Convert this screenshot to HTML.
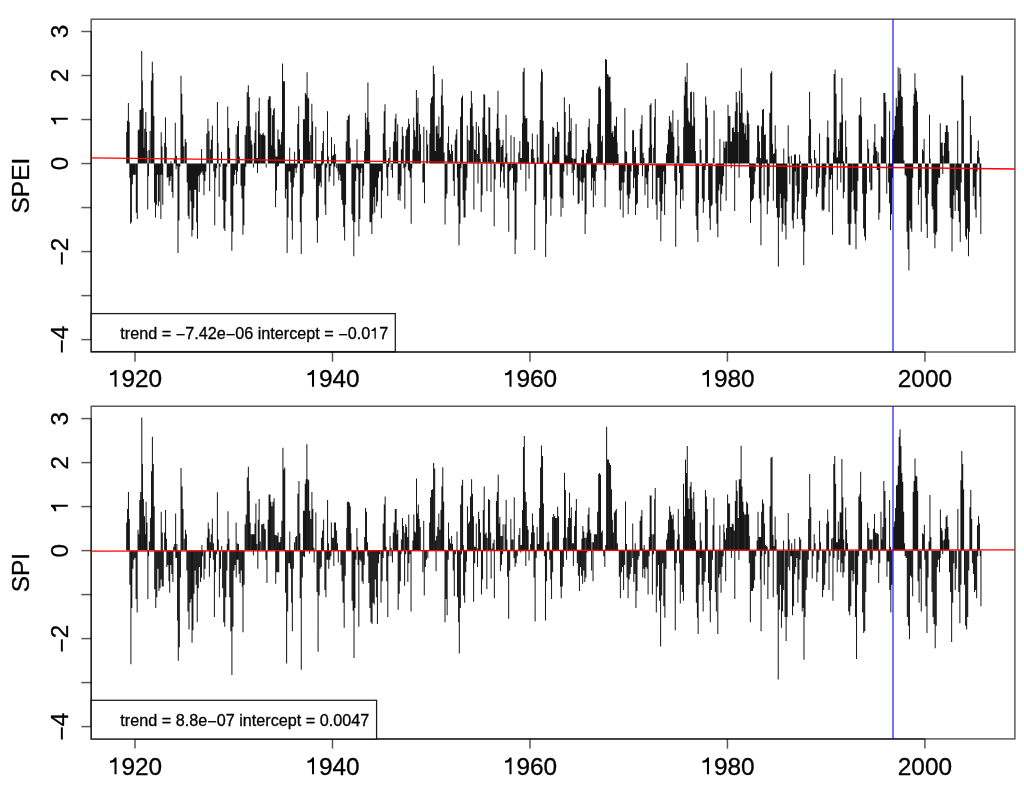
<!DOCTYPE html><html><head><meta charset="utf-8"><style>html,body{margin:0;padding:0;background:#fff;overflow:hidden}svg{display:block;will-change:transform}text{stroke:#000;stroke-width:0.3px}.h{fill-opacity:0;stroke-opacity:0}</style></head><body><svg width="1024" height="789" viewBox="0 0 1024 789">
<rect width="1024" height="789" fill="#fff"/>
<rect x="91.2" y="19.2" width="923.70" height="332.80" fill="none" stroke="#000" stroke-width="1.5" stroke-opacity="0.65"/>
<line x1="135.0" y1="352.0" x2="924.9200000000001" y2="352.0" stroke="#000" stroke-width="1.5" stroke-opacity="0.65"/>
<line x1="91.2" y1="339.63" x2="91.2" y2="31.49000000000001" stroke="#000" stroke-width="1.5" stroke-opacity="0.65"/>
<line x1="135.00" y1="352.0" x2="135.00" y2="361.7" stroke="#000" stroke-width="1.5" stroke-opacity="0.65"/>
<text x="135.00" y="387.30" text-anchor="middle" font-family='"Liberation Sans", sans-serif' font-size="24.4"><tspan class="h">1</tspan>920</text>
<path d="M116.55 369.90L116.55 386.70L114.50 386.70L114.50 374.20C113.30 374.90 111.70 375.20 110.00 375.20L110.00 373.30C112.30 373.00 113.90 371.60 114.80 369.90Z" fill="#000"/>
<line x1="332.48" y1="352.0" x2="332.48" y2="361.7" stroke="#000" stroke-width="1.5" stroke-opacity="0.65"/>
<text x="332.48" y="387.30" text-anchor="middle" font-family='"Liberation Sans", sans-serif' font-size="24.4"><tspan class="h">1</tspan>940</text>
<path d="M314.03 369.90L314.03 386.70L311.98 386.70L311.98 374.20C310.78 374.90 309.18 375.20 307.48 375.20L307.48 373.30C309.78 373.00 311.38 371.60 312.28 369.90Z" fill="#000"/>
<line x1="529.96" y1="352.0" x2="529.96" y2="361.7" stroke="#000" stroke-width="1.5" stroke-opacity="0.65"/>
<text x="529.96" y="387.30" text-anchor="middle" font-family='"Liberation Sans", sans-serif' font-size="24.4"><tspan class="h">1</tspan>960</text>
<path d="M511.51 369.90L511.51 386.70L509.46 386.70L509.46 374.20C508.26 374.90 506.66 375.20 504.96 375.20L504.96 373.30C507.26 373.00 508.86 371.60 509.76 369.90Z" fill="#000"/>
<line x1="727.44" y1="352.0" x2="727.44" y2="361.7" stroke="#000" stroke-width="1.5" stroke-opacity="0.65"/>
<text x="727.44" y="387.30" text-anchor="middle" font-family='"Liberation Sans", sans-serif' font-size="24.4"><tspan class="h">1</tspan>980</text>
<path d="M708.99 369.90L708.99 386.70L706.94 386.70L706.94 374.20C705.74 374.90 704.14 375.20 702.44 375.20L702.44 373.30C704.74 373.00 706.34 371.60 707.24 369.90Z" fill="#000"/>
<line x1="924.92" y1="352.0" x2="924.92" y2="361.7" stroke="#000" stroke-width="1.5" stroke-opacity="0.65"/>
<text x="924.92" y="387.30" text-anchor="middle" font-family='"Liberation Sans", sans-serif' font-size="24.4">2000</text>
<line x1="91.2" y1="339.63" x2="81.3" y2="339.63" stroke="#000" stroke-width="1.5" stroke-opacity="0.65"/>
<text transform="translate(67.8 339.63) rotate(-90)" text-anchor="middle" font-family='"Liberation Sans", sans-serif' font-size="24.4"><tspan dy="1.8">−</tspan><tspan dy="-1.8">4</tspan></text>
<line x1="91.2" y1="295.61" x2="81.3" y2="295.61" stroke="#000" stroke-width="1.5" stroke-opacity="0.65"/>
<line x1="91.2" y1="251.59" x2="81.3" y2="251.59" stroke="#000" stroke-width="1.5" stroke-opacity="0.65"/>
<text transform="translate(67.8 251.59) rotate(-90)" text-anchor="middle" font-family='"Liberation Sans", sans-serif' font-size="24.4"><tspan dy="1.8">−</tspan><tspan dy="-1.8">2</tspan></text>
<line x1="91.2" y1="207.57" x2="81.3" y2="207.57" stroke="#000" stroke-width="1.5" stroke-opacity="0.65"/>
<line x1="91.2" y1="163.55" x2="81.3" y2="163.55" stroke="#000" stroke-width="1.5" stroke-opacity="0.65"/>
<text transform="translate(67.8 163.55) rotate(-90)" text-anchor="middle" font-family='"Liberation Sans", sans-serif' font-size="24.4">0</text>
<line x1="91.2" y1="119.53" x2="81.3" y2="119.53" stroke="#000" stroke-width="1.5" stroke-opacity="0.65"/>
<g transform="translate(67.8 119.53) rotate(-90)"><path d="M1.90 -16.80L1.90 0.00L-0.15 0.00L-0.15 -12.50C-1.35 -11.80 -2.95 -11.50 -4.65 -11.50L-4.65 -13.40C-2.35 -13.70 -0.75 -15.10 0.15 -16.80Z" fill="#000"/></g>
<line x1="91.2" y1="75.51" x2="81.3" y2="75.51" stroke="#000" stroke-width="1.5" stroke-opacity="0.65"/>
<text transform="translate(67.8 75.51) rotate(-90)" text-anchor="middle" font-family='"Liberation Sans", sans-serif' font-size="24.4">2</text>
<line x1="91.2" y1="31.49" x2="81.3" y2="31.49" stroke="#000" stroke-width="1.5" stroke-opacity="0.65"/>
<text transform="translate(67.8 31.49) rotate(-90)" text-anchor="middle" font-family='"Liberation Sans", sans-serif' font-size="24.4">3</text>
<path d="M126.65 163.55V131.88M127.45 163.55V120.79M128.40 163.55V103.05M129.19 163.55V122.06M138.22 163.55V130.30M139.01 163.55V129.50M139.96 163.55V109.70M140.91 163.55V109.70M141.70 163.55V51.09M142.34 163.55V80.40M143.13 163.55V108.12M143.92 163.55V147.72M144.71 163.55V128.71M145.82 163.55V112.08M146.46 163.55V131.88M146.93 163.55V150.89M148.99 163.55V150.10M150.10 163.55V131.09M151.37 163.55V80.40M152.32 163.55V61.86M152.95 163.55V72.95M153.90 163.55V116.04M161.19 163.55V132.36M161.98 163.55V146.46M164.67 163.55V142.97M165.47 163.55V117.62M166.26 163.55V146.93M171.01 163.55V161.19M174.34 163.55V158.81M175.29 163.55V122.85M176.40 163.55V155.64M180.99 163.55V75.64M181.78 163.55V93.86M182.73 163.55V114.46M183.84 163.55V146.14M185.27 163.55V139.01M186.22 163.55V142.18M201.58 163.55V148.99M206.81 163.55V133.47M207.92 163.55V118.73M209.03 163.55V131.09M210.30 163.55V149.31M211.41 163.55V139.80M212.36 163.55V125.54M217.43 163.55V102.10M218.06 163.55V142.97M221.54 163.55V151.68M227.72 163.55V106.53M228.67 163.55V127.92M229.62 163.55V147.72M236.12 163.55V134.26M237.54 163.55V126.34M238.50 163.55V121.11M239.29 163.55V156.44M245.15 163.55V135.05M246.26 163.55V126.34M247.21 163.55V92.28M248.32 163.55V85.15M249.27 163.55V97.03M250.22 163.55V126.34M251.17 163.55V140.59M251.96 163.55V144.55M254.34 163.55V142.97M255.13 163.55V130.30M255.92 163.55V112.55M256.71 163.55V158.02M257.58 163.55V158.02M258.46 163.55V111.29M259.25 163.55V97.82M260.20 163.55V133.47M261.31 163.55V135.05M262.26 163.55V134.26M263.21 163.55V132.67M264.00 163.55V135.05M264.95 163.55V135.84M268.28 163.55V99.41M269.23 163.55V96.24M270.18 163.55V96.24M270.81 163.55V108.12M271.76 163.55V145.35M272.55 163.55V115.25M273.50 163.55V109.70M274.30 163.55V108.12M274.93 163.55V149.31M276.04 163.55V156.44M276.99 163.55V156.44M277.94 163.55V129.50M278.89 163.55V139.01M279.68 163.55V139.80M280.63 163.55V144.55M281.58 163.55V131.88M282.53 163.55V63.45M283.49 163.55V81.19M284.44 163.55V81.19M289.66 163.55V147.41M294.57 163.55V151.68M297.74 163.55V123.96M298.69 163.55V106.22M299.49 163.55V149.31M303.45 163.55V119.21M304.40 163.55V119.21M305.35 163.55V93.07M306.30 163.55V94.65M307.09 163.55V72.16M307.88 163.55V97.82M308.67 163.55V98.61M309.47 163.55V141.39M310.73 163.55V135.05M311.84 163.55V103.84M312.63 163.55V121.58M315.80 163.55V126.81M321.66 163.55V150.89M322.61 163.55V142.97M323.41 163.55V131.09M327.52 163.55V111.29M328.32 163.55V156.44M331.49 163.55V136.95M332.44 163.55V155.64M333.54 163.55V154.85M334.50 163.55V144.24M335.60 163.55V154.06M346.22 163.55V141.39M347.17 163.55V120.00M348.28 163.55V116.04M349.23 163.55V114.46M350.18 163.55V147.72M356.99 163.55V139.33M364.59 163.55V150.89M365.39 163.55V112.87M366.34 163.55V129.50M367.13 163.55V117.62M367.92 163.55V82.46M368.87 163.55V122.06M369.66 163.55V135.05M383.29 163.55V133.47M384.24 163.55V111.29M385.03 163.55V104.16M385.82 163.55V150.10M388.67 163.55V158.02M389.94 163.55V146.93M393.43 163.55V141.39M394.38 163.55V131.88M395.17 163.55V118.42M395.96 163.55V113.66M396.91 163.55V141.39M397.70 163.55V124.28M401.35 163.55V149.31M402.30 163.55V126.81M403.25 163.55V135.84M405.78 163.55V135.84M406.73 163.55V129.50M407.68 163.55V127.13M408.63 163.55V118.73M409.43 163.55V123.96M412.91 163.55V149.31M413.70 163.55V117.62M414.65 163.55V130.30M415.60 163.55V136.63M416.40 163.55V89.90M417.19 163.55V112.87M417.98 163.55V97.82M418.77 163.55V150.89M419.56 163.55V123.96M420.51 163.55V134.26M423.84 163.55V126.81M426.69 163.55V129.98M427.64 163.55V144.55M429.86 163.55V133.47M430.65 163.55V103.37M431.45 163.55V97.82M432.40 163.55V96.24M433.35 163.55V65.66M434.30 163.55V74.06M435.25 163.55V150.89M436.20 163.55V126.34M437.15 163.55V125.54M437.94 163.55V133.47M438.89 163.55V116.51M439.68 163.55V138.22M440.63 163.55V136.63M441.43 163.55V95.45M442.22 163.55V79.13M443.17 163.55V105.27M444.12 163.55V152.48M447.76 163.55V142.97M448.55 163.55V126.34M449.50 163.55V150.10M450.46 163.55V154.06M451.56 163.55V144.55M452.51 163.55V150.89M455.21 163.55V139.80M456.00 163.55V134.26M456.79 163.55V129.19M460.59 163.55V116.83M461.54 163.55V97.82M462.50 163.55V95.45M467.25 163.55V125.54M468.20 163.55V139.80M469.47 163.55V140.59M470.42 163.55V108.12M471.37 163.55V91.01M472.16 163.55V103.37M473.11 163.55V126.34M474.53 163.55V149.31M475.49 163.55V150.10M476.28 163.55V122.06M477.39 163.55V154.06M478.50 163.55V126.34M479.29 163.55V132.67M480.24 163.55V158.81M482.93 163.55V117.62M483.88 163.55V94.18M484.67 163.55V94.65M485.62 163.55V134.26M486.57 163.55V135.05M488.00 163.55V147.72M488.95 163.55V107.01M489.74 163.55V108.12M490.69 163.55V142.18M491.96 163.55V159.60M493.23 163.55V159.60M496.40 163.55V128.71M497.35 163.55V113.66M497.98 163.55V90.69M498.93 163.55V127.92M499.88 163.55V139.80M501.15 163.55V146.93M502.10 163.55V145.35M503.05 163.55V139.80M505.27 163.55V157.23M506.06 163.55V114.77M506.85 163.55V153.27M510.97 163.55V135.37M514.14 163.55V136.95M518.73 163.55V152.48M519.84 163.55V140.91M520.79 163.55V158.02M521.66 163.55V158.02M522.53 163.55V123.17M523.17 163.55V71.68M524.12 163.55V67.72M524.91 163.55V115.72M525.86 163.55V118.42M526.81 163.55V118.10M527.76 163.55V141.39M528.55 163.55V142.18M531.41 163.55V149.31M532.36 163.55V133.47M533.15 163.55V149.31M534.10 163.55V158.02M537.27 163.55V134.42M538.06 163.55V157.23M540.12 163.55V120.00M540.91 163.55V81.98M541.54 163.55V69.31M542.34 163.55V71.68M543.13 163.55V120.79M547.88 163.55V160.40M548.67 163.55V143.76M552.79 163.55V126.81M553.74 163.55V127.92M554.69 163.55V154.85M555.64 163.55V136.63M556.44 163.55V136.63M557.39 163.55V122.06M558.18 163.55V131.56M558.97 163.55V131.88M564.36 163.55V97.35M565.15 163.55V112.08M566.10 163.55V154.85M567.05 163.55V155.64M568.00 163.55V142.18M568.79 163.55V131.88M569.43 163.55V104.16M570.22 163.55V131.09M571.17 163.55V118.10M572.12 163.55V158.02M573.23 163.55V158.81M574.50 163.55V158.81M575.29 163.55V158.81M576.08 163.55V123.96M581.62 163.55V157.23M582.57 163.55V150.10M583.52 163.55V149.78M586.38 163.55V153.27M587.33 163.55V149.31M588.28 163.55V127.13M589.23 163.55V118.73M589.86 163.55V141.39M590.65 163.55V143.76M591.52 163.55V158.02M592.40 163.55V158.02M596.67 163.55V156.44M597.78 163.55V123.96M598.73 163.55V87.52M599.68 163.55V86.26M600.48 163.55V89.11M601.43 163.55V141.39M602.38 163.55V135.84M605.54 163.55V59.01M606.50 163.55V59.80M607.29 163.55V74.06M608.08 163.55V74.85M609.03 163.55V77.23M609.98 163.55V76.44M610.93 163.55V101.78M611.88 163.55V132.67M612.83 163.55V131.09M613.62 163.55V136.63M614.57 163.55V125.54M615.52 163.55V126.34M616.48 163.55V116.83M617.11 163.55V142.18M618.06 163.55V154.06M624.87 163.55V108.12M625.66 163.55V150.89M626.61 163.55V151.68M632.63 163.55V130.30M633.58 163.55V130.30M634.53 163.55V150.89M635.49 163.55V146.93M640.24 163.55V128.71M641.19 163.55V123.96M641.98 163.55V115.25M643.09 163.55V152.79M644.04 163.55V158.02M649.11 163.55V147.72M650.06 163.55V104.95M651.01 163.55V103.37M651.64 163.55V144.55M653.70 163.55V147.72M654.50 163.55V117.31M655.29 163.55V98.93M666.53 163.55V153.27M667.49 163.55V144.55M668.44 163.55V129.50M669.39 163.55V116.04M670.18 163.55V120.79M671.13 163.55V122.38M672.08 163.55V131.88M672.87 163.55V110.18M673.82 163.55V136.63M677.15 163.55V155.64M677.94 163.55V119.68M678.89 163.55V146.14M683.64 163.55V127.13M684.28 163.55V95.45M685.23 163.55V76.44M686.18 163.55V81.98M687.13 163.55V62.97M687.92 163.55V108.12M688.71 163.55V120.79M689.66 163.55V122.38M690.61 163.55V92.28M691.41 163.55V91.49M692.04 163.55V126.34M692.99 163.55V125.54M693.78 163.55V91.96M694.57 163.55V117.62M695.37 163.55V150.89M700.12 163.55V139.01M701.07 163.55V150.10M705.66 163.55V96.55M706.46 163.55V104.63M707.41 163.55V117.62M713.27 163.55V158.02M714.06 163.55V110.50M719.92 163.55V139.01M723.88 163.55V141.39M724.83 163.55V147.72M725.78 163.55V141.39M726.73 163.55V141.39M728.00 163.55V104.63M728.95 163.55V116.04M729.90 163.55V116.04M730.85 163.55V141.39M731.64 163.55V141.39M732.44 163.55V127.92M733.39 163.55V127.13M734.34 163.55V131.88M735.29 163.55V111.29M736.24 163.55V91.96M737.19 163.55V102.57M738.14 163.55V131.88M739.41 163.55V90.69M740.36 163.55V112.87M741.31 163.55V68.20M742.10 163.55V93.07M742.89 163.55V122.38M743.84 163.55V123.17M744.79 163.55V133.47M745.74 163.55V124.75M746.38 163.55V139.80M747.33 163.55V110.50M748.28 163.55V112.87M748.91 163.55V123.96M756.83 163.55V157.23M757.62 163.55V125.54M758.57 163.55V125.54M759.52 163.55V141.39M760.63 163.55V158.02M761.58 163.55V126.34M762.53 163.55V109.70M763.49 163.55V108.91M764.44 163.55V135.05M765.39 163.55V134.26M766.34 163.55V159.60M767.29 163.55V159.60M769.82 163.55V112.87M770.77 163.55V73.27M771.72 163.55V71.37M772.51 163.55V143.76M773.47 163.55V154.06M774.26 163.55V153.27M775.21 163.55V125.23M776.00 163.55V148.99M783.76 163.55V148.51M788.20 163.55V125.23M789.15 163.55V156.44M791.37 163.55V155.64M794.53 163.55V154.38M795.49 163.55V154.38M799.60 163.55V154.38M800.55 163.55V161.19M808.79 163.55V135.84M809.58 163.55V91.80M810.53 163.55V119.21M811.33 163.55V158.81M814.50 163.55V150.10M815.76 163.55V158.02M819.56 163.55V133.47M827.17 163.55V136.95M827.80 163.55V120.48M828.75 163.55V137.43M833.50 163.55V152.48M834.14 163.55V74.06M835.09 163.55V69.62M836.04 163.55V93.86M836.99 163.55V157.23M837.78 163.55V157.23M838.57 163.55V139.01M839.21 163.55V150.89M840.00 163.55V122.38M840.95 163.55V122.38M841.90 163.55V78.02M842.53 163.55V114.46M843.49 163.55V161.19M845.70 163.55V120.48M846.65 163.55V146.93M859.17 163.55V115.25M860.12 163.55V114.46M860.75 163.55V97.35M861.54 163.55V116.83M867.72 163.55V139.49M868.67 163.55V148.51M873.43 163.55V155.33M874.06 163.55V142.18M874.85 163.55V123.96M875.80 163.55V146.93M876.75 163.55V150.89M878.18 163.55V152.16M881.35 163.55V136.32M882.30 163.55V136.95M883.25 163.55V138.22M883.88 163.55V93.07M884.83 163.55V93.07M885.78 163.55V102.10M889.58 163.55V111.29M892.75 163.55V139.01M893.70 163.55V135.05M894.34 163.55V130.30M895.29 163.55V116.04M896.24 163.55V97.82M897.19 163.55V106.53M898.14 163.55V67.25M899.09 163.55V90.69M899.88 163.55V68.20M900.67 163.55V74.06M901.47 163.55V96.24M902.26 163.55V97.03M903.05 163.55V126.34M904.00 163.55V160.40M913.35 163.55V105.74M914.14 163.55V93.86M914.93 163.55V73.27M915.72 163.55V88.32M916.51 163.55V90.69M917.47 163.55V101.78M922.53 163.55V149.31M923.33 163.55V150.89M924.12 163.55V138.69M929.50 163.55V114.77M930.14 163.55V158.81M940.28 163.55V123.17M941.23 163.55V142.97M942.18 163.55V142.18M943.13 163.55V155.64M944.40 163.55V142.97M945.35 163.55V131.88M946.30 163.55V125.23M947.25 163.55V125.54M948.20 163.55V131.88M948.83 163.55V150.89M957.70 163.55V120.79M961.82 163.55V75.17M962.61 163.55V75.64M963.41 163.55V99.88M970.38 163.55V116.04M971.33 163.55V135.05M977.50 163.55V150.89M978.30 163.55V140.59M979.25 163.55V157.23M129.82 163.55V177.84M130.61 163.55V223.78M131.41 163.55V222.20M132.36 163.55V184.18M133.31 163.55V174.67M134.26 163.55V174.67M135.21 163.55V174.67M136.32 163.55V212.69M137.27 163.55V219.03M147.72 163.55V209.52M148.51 163.55V176.26M154.53 163.55V202.40M155.49 163.55V217.45M156.44 163.55V204.77M157.39 163.55V174.67M158.34 163.55V206.36M159.29 163.55V201.60M160.24 163.55V174.67M160.87 163.55V219.03M161.82 163.55V174.67M162.77 163.55V204.77M167.21 163.55V177.84M168.16 163.55V177.05M169.11 163.55V185.76M170.06 163.55V181.01M171.01 163.55V176.26M171.96 163.55V192.10M172.91 163.55V197.64M176.08 163.55V169.13M177.03 163.55V165.96M177.98 163.55V253.09M178.93 163.55V220.61M179.88 163.55V166.75M187.17 163.55V182.59M188.12 163.55V215.86M189.07 163.55V219.03M190.02 163.55V190.51M190.97 163.55V201.60M191.92 163.55V236.46M192.87 163.55V230.12M193.82 163.55V207.94M194.77 163.55V189.72M195.72 163.55V189.72M196.67 163.55V222.20M197.47 163.55V238.83M198.42 163.55V176.26M199.21 163.55V192.10M200.16 163.55V174.67M201.11 163.55V173.09M202.06 163.55V171.50M203.01 163.55V174.67M203.96 163.55V195.27M204.91 163.55V181.01M205.86 163.55V171.50M209.66 163.55V191.31M213.78 163.55V171.50M214.73 163.55V225.37M215.68 163.55V177.84M216.63 163.55V168.34M219.17 163.55V196.85M220.12 163.55V166.75M222.97 163.55V200.02M223.92 163.55V228.53M224.87 163.55V230.91M225.82 163.55V201.60M226.77 163.55V166.75M230.89 163.55V215.86M231.84 163.55V250.71M232.79 163.55V231.70M233.74 163.55V185.76M234.69 163.55V174.67M235.64 163.55V169.92M236.59 163.55V184.18M237.54 163.55V171.50M241.03 163.55V185.76M241.98 163.55V198.44M242.93 163.55V234.87M243.88 163.55V225.37M244.83 163.55V185.76M245.78 163.55V166.75M253.39 163.55V167.54M257.50 163.55V173.09M266.22 163.55V167.54M275.56 163.55V207.15M276.51 163.55V190.51M277.47 163.55V166.75M278.42 163.55V165.96M285.39 163.55V198.44M286.34 163.55V188.93M287.13 163.55V253.09M288.08 163.55V217.45M289.03 163.55V171.50M289.90 163.55V171.50M290.77 163.55V182.59M291.72 163.55V220.61M292.36 163.55V239.62M293.31 163.55V187.35M294.26 163.55V177.84M295.21 163.55V168.34M296.16 163.55V173.09M297.11 163.55V167.54M300.28 163.55V222.20M301.23 163.55V253.88M302.18 163.55V196.85M303.13 163.55V193.68M304.40 163.55V168.34M314.22 163.55V178.63M315.33 163.55V168.34M316.44 163.55V220.61M317.39 163.55V242.79M318.34 163.55V217.45M319.29 163.55V185.76M320.24 163.55V182.59M321.19 163.55V187.35M322.14 163.55V165.17M324.99 163.55V204.77M325.78 163.55V215.07M326.73 163.55V167.54M329.11 163.55V181.80M330.06 163.55V176.26M331.01 163.55V165.96M333.86 163.55V185.76M334.81 163.55V166.75M336.71 163.55V168.34M337.98 163.55V171.50M338.77 163.55V180.22M339.88 163.55V174.67M340.83 163.55V181.01M341.78 163.55V200.02M342.73 163.55V204.77M343.68 163.55V226.95M344.63 163.55V240.42M345.58 163.55V204.77M351.92 163.55V214.28M352.87 163.55V220.61M353.82 163.55V256.26M354.77 163.55V222.20M355.72 163.55V181.01M356.67 163.55V168.34M357.47 163.55V168.34M358.26 163.55V169.92M358.89 163.55V236.46M359.84 163.55V219.03M360.79 163.55V173.09M361.74 163.55V168.34M362.69 163.55V198.44M363.64 163.55V185.76M369.98 163.55V222.20M370.93 163.55V222.20M371.88 163.55V234.08M372.83 163.55V214.28M373.78 163.55V196.85M374.73 163.55V212.69M375.68 163.55V187.35M376.63 163.55V206.36M377.58 163.55V201.60M378.53 163.55V177.84M379.49 163.55V171.50M380.44 163.55V171.50M381.39 163.55V218.24M382.34 163.55V190.51M386.77 163.55V177.84M387.72 163.55V196.06M388.67 163.55V166.75M391.21 163.55V169.92M392.48 163.55V177.84M398.18 163.55V200.02M399.13 163.55V193.68M400.08 163.55V200.81M401.03 163.55V185.76M403.88 163.55V168.34M404.83 163.55V208.73M405.78 163.55V166.75M408.32 163.55V169.92M409.27 163.55V171.50M410.22 163.55V177.84M411.17 163.55V223.78M411.80 163.55V168.34M422.89 163.55V182.59M423.68 163.55V182.59M424.48 163.55V203.19M445.07 163.55V224.57M446.02 163.55V198.44M446.97 163.55V193.68M453.31 163.55V181.01M454.26 163.55V196.06M457.43 163.55V177.84M458.06 163.55V206.36M459.01 163.55V245.17M459.96 163.55V223.78M460.91 163.55V168.34M463.13 163.55V200.02M464.08 163.55V217.45M465.03 163.55V217.45M465.98 163.55V190.51M466.93 163.55V177.84M473.90 163.55V209.52M478.02 163.55V183.39M481.19 163.55V211.90M482.14 163.55V195.27M486.89 163.55V191.31M491.01 163.55V192.10M494.18 163.55V226.16M495.13 163.55V179.43M500.51 163.55V187.35M501.47 163.55V171.50M502.73 163.55V166.75M503.68 163.55V182.59M504.32 163.55V188.14M507.80 163.55V198.44M508.75 163.55V231.70M509.70 163.55V171.50M510.65 163.55V169.92M511.92 163.55V168.34M512.71 163.55V168.34M513.50 163.55V190.51M514.46 163.55V182.59M515.09 163.55V253.88M516.04 163.55V239.62M516.99 163.55V182.59M520.79 163.55V169.92M525.86 163.55V191.31M529.03 163.55V178.63M534.73 163.55V249.92M535.68 163.55V204.77M543.92 163.55V200.02M544.87 163.55V196.85M545.66 163.55V257.05M546.46 163.55V223.78M549.94 163.55V174.67M550.89 163.55V215.86M551.84 163.55V198.44M560.08 163.55V196.85M561.03 163.55V216.65M561.98 163.55V198.44M562.93 163.55V207.94M563.88 163.55V171.50M567.05 163.55V175.47M572.12 163.55V173.09M573.39 163.55V195.27M574.34 163.55V169.92M577.19 163.55V177.84M578.14 163.55V203.98M579.09 163.55V203.19M580.04 163.55V181.01M581.31 163.55V182.59M582.26 163.55V200.81M583.21 163.55V182.59M584.16 163.55V177.84M585.11 163.55V234.08M586.06 163.55V214.28M591.45 163.55V190.51M592.40 163.55V177.84M593.35 163.55V207.15M594.30 163.55V181.01M595.25 163.55V195.27M596.20 163.55V171.50M604.12 163.55V169.92M605.07 163.55V207.15M605.70 163.55V180.22M613.62 163.55V165.96M619.33 163.55V190.51M620.28 163.55V209.52M621.23 163.55V190.51M622.18 163.55V182.59M623.13 163.55V217.45M624.08 163.55V182.59M625.03 163.55V171.50M627.25 163.55V195.27M628.20 163.55V214.28M629.15 163.55V198.44M630.10 163.55V193.68M631.05 163.55V171.50M633.58 163.55V188.14M634.53 163.55V177.84M635.49 163.55V215.07M636.44 163.55V204.77M637.39 163.55V203.19M638.34 163.55V174.67M642.46 163.55V176.26M644.99 163.55V195.27M645.94 163.55V177.84M646.89 163.55V184.18M647.84 163.55V207.94M648.48 163.55V171.50M652.59 163.55V199.23M656.08 163.55V204.77M657.03 163.55V219.82M657.98 163.55V177.84M658.93 163.55V177.84M659.88 163.55V201.60M660.83 163.55V241.21M661.78 163.55V211.11M662.73 163.55V193.68M663.68 163.55V171.50M664.63 163.55V215.07M665.58 163.55V184.18M674.77 163.55V181.01M675.72 163.55V246.75M676.67 163.55V195.27M679.52 163.55V173.09M680.48 163.55V208.73M681.43 163.55V189.72M682.38 163.55V188.93M683.01 163.55V200.81M696.00 163.55V215.86M696.95 163.55V230.12M697.90 163.55V242.00M698.53 163.55V203.19M702.34 163.55V198.44M703.29 163.55V212.69M704.24 163.55V201.60M705.19 163.55V169.92M708.67 163.55V200.02M709.62 163.55V218.24M710.26 163.55V230.12M711.21 163.55V206.36M712.16 163.55V204.77M715.96 163.55V203.19M716.91 163.55V223.78M717.86 163.55V237.25M718.81 163.55V190.51M719.76 163.55V184.18M720.71 163.55V211.11M721.66 163.55V193.68M722.61 163.55V185.76M723.56 163.55V176.26M726.10 163.55V200.81M731.17 163.55V168.34M734.65 163.55V211.11M739.09 163.55V177.84M749.54 163.55V177.84M750.50 163.55V222.99M751.45 163.55V201.60M752.40 163.55V200.02M753.35 163.55V198.44M754.30 163.55V184.18M755.25 163.55V171.50M759.37 163.55V198.44M760.32 163.55V203.19M760.95 163.55V245.17M761.58 163.55V168.34M764.12 163.55V195.27M767.29 163.55V214.28M768.24 163.55V201.60M769.19 163.55V186.55M773.31 163.55V200.81M776.48 163.55V207.94M777.43 163.55V217.45M778.38 163.55V266.55M779.33 163.55V217.45M780.28 163.55V193.68M781.23 163.55V207.94M782.18 163.55V231.70M783.13 163.55V223.78M784.08 163.55V198.44M785.03 163.55V225.37M785.98 163.55V239.62M786.93 163.55V201.60M789.78 163.55V184.18M792.32 163.55V220.61M793.27 163.55V228.53M794.22 163.55V212.69M795.17 163.55V171.50M796.12 163.55V185.76M797.39 163.55V219.03M798.34 163.55V201.60M799.29 163.55V193.68M801.82 163.55V219.03M802.77 163.55V225.37M803.72 163.55V264.97M804.67 163.55V231.70M805.62 163.55V209.52M806.57 163.55V196.85M807.52 163.55V179.43M811.64 163.55V188.93M816.40 163.55V196.85M817.35 163.55V193.68M818.61 163.55V187.35M819.56 163.55V177.84M822.10 163.55V209.52M823.05 163.55V211.11M824.00 163.55V209.52M824.95 163.55V187.35M825.90 163.55V174.67M829.07 163.55V211.90M829.86 163.55V179.43M830.65 163.55V179.43M831.60 163.55V174.67M832.55 163.55V234.87M837.31 163.55V189.72M840.79 163.55V182.59M843.33 163.55V198.44M844.28 163.55V192.10M848.08 163.55V223.78M849.03 163.55V244.38M849.98 163.55V245.17M850.93 163.55V223.78M851.88 163.55V192.10M853.15 163.55V190.51M854.10 163.55V209.52M855.05 163.55V223.78M856.00 163.55V249.13M856.95 163.55V211.11M857.90 163.55V181.01M862.65 163.55V193.68M863.60 163.55V228.53M864.55 163.55V236.46M865.50 163.55V240.42M866.46 163.55V193.68M869.62 163.55V182.59M870.89 163.55V190.51M871.84 163.55V189.72M877.23 163.55V169.92M878.02 163.55V169.92M878.81 163.55V219.82M879.76 163.55V212.69M886.73 163.55V193.68M888.63 163.55V182.59M889.58 163.55V203.19M890.53 163.55V230.12M891.49 163.55V214.28M892.44 163.55V177.84M905.11 163.55V174.67M906.06 163.55V176.26M907.01 163.55V231.70M907.96 163.55V249.13M908.91 163.55V270.51M909.86 163.55V220.61M910.81 163.55V228.53M911.76 163.55V231.70M912.71 163.55V177.84M918.42 163.55V204.77M919.37 163.55V189.72M920.32 163.55V187.35M921.27 163.55V231.70M925.39 163.55V197.64M926.34 163.55V223.78M927.29 163.55V238.04M928.24 163.55V193.68M932.04 163.55V206.36M932.99 163.55V209.52M933.94 163.55V233.29M934.89 163.55V248.34M935.84 163.55V234.87M936.79 163.55V231.70M937.74 163.55V184.18M938.69 163.55V177.84M939.64 163.55V177.84M942.81 163.55V173.88M950.10 163.55V207.94M951.05 163.55V217.45M952.00 163.55V251.50M952.95 163.55V219.03M953.90 163.55V195.27M955.17 163.55V211.11M956.44 163.55V189.72M957.39 163.55V190.51M958.34 163.55V211.11M959.29 163.55V222.20M960.24 163.55V242.00M961.19 163.55V182.59M964.67 163.55V201.60M965.62 163.55V236.46M966.57 163.55V239.62M967.52 163.55V228.53M968.48 163.55V256.26M969.43 163.55V231.70M973.23 163.55V196.06M974.18 163.55V187.35M975.13 163.55V209.52M976.08 163.55V217.45M977.03 163.55V171.50M979.88 163.55V196.85M980.83 163.55V234.08" stroke="#161616" stroke-width="1.02" fill="none"/>
<line x1="91.2" y1="157.85" x2="1014.9" y2="169.04" stroke="#ff0000" stroke-width="1.35"/>
<line x1="893" y1="19.2" x2="893" y2="352.0" stroke="#0000ff" stroke-width="1.1"/>
<text transform="translate(29 185.60) rotate(-90)" text-anchor="middle" font-family='"Liberation Sans", sans-serif' font-size="24.4">SPEI</text>
<rect x="91.25" y="313.6" width="304.05" height="38.00" fill="#fff" stroke="#000" stroke-width="1.3" stroke-opacity="0.88"/>
<text x="120.3" y="338.9" font-family='"Liberation Sans", sans-serif' font-size="16.2">trend = <tspan dy="1.2">−</tspan><tspan dy="-1.2">7</tspan>.42e<tspan dy="1.2">−</tspan><tspan dy="-1.2">0</tspan>6 intercept = <tspan dy="1.2">−</tspan><tspan dy="-1.2">0</tspan>.0<tspan class="h">1</tspan>7</text>
<g transform="translate(370.05 338.9) scale(0.6639)"><path d="M8.68 -17.10L8.68 -0.30L6.63 -0.30L6.63 -12.80C5.43 -12.10 3.83 -11.80 2.13 -11.80L2.13 -13.70C4.43 -14.00 6.03 -15.40 6.93 -17.10Z" fill="#000"/></g>
<rect x="91.2" y="406.25" width="923.70" height="332.65" fill="none" stroke="#000" stroke-width="1.5" stroke-opacity="0.65"/>
<line x1="135.0" y1="738.9" x2="924.9200000000001" y2="738.9" stroke="#000" stroke-width="1.5" stroke-opacity="0.65"/>
<line x1="91.2" y1="726.6" x2="91.2" y2="418.6" stroke="#000" stroke-width="1.5" stroke-opacity="0.65"/>
<line x1="135.00" y1="738.9" x2="135.00" y2="748.6" stroke="#000" stroke-width="1.5" stroke-opacity="0.65"/>
<text x="135.00" y="774.80" text-anchor="middle" font-family='"Liberation Sans", sans-serif' font-size="24.4"><tspan class="h">1</tspan>920</text>
<path d="M116.55 757.40L116.55 774.20L114.50 774.20L114.50 761.70C113.30 762.40 111.70 762.70 110.00 762.70L110.00 760.80C112.30 760.50 113.90 759.10 114.80 757.40Z" fill="#000"/>
<line x1="332.48" y1="738.9" x2="332.48" y2="748.6" stroke="#000" stroke-width="1.5" stroke-opacity="0.65"/>
<text x="332.48" y="774.80" text-anchor="middle" font-family='"Liberation Sans", sans-serif' font-size="24.4"><tspan class="h">1</tspan>940</text>
<path d="M314.03 757.40L314.03 774.20L311.98 774.20L311.98 761.70C310.78 762.40 309.18 762.70 307.48 762.70L307.48 760.80C309.78 760.50 311.38 759.10 312.28 757.40Z" fill="#000"/>
<line x1="529.96" y1="738.9" x2="529.96" y2="748.6" stroke="#000" stroke-width="1.5" stroke-opacity="0.65"/>
<text x="529.96" y="774.80" text-anchor="middle" font-family='"Liberation Sans", sans-serif' font-size="24.4"><tspan class="h">1</tspan>960</text>
<path d="M511.51 757.40L511.51 774.20L509.46 774.20L509.46 761.70C508.26 762.40 506.66 762.70 504.96 762.70L504.96 760.80C507.26 760.50 508.86 759.10 509.76 757.40Z" fill="#000"/>
<line x1="727.44" y1="738.9" x2="727.44" y2="748.6" stroke="#000" stroke-width="1.5" stroke-opacity="0.65"/>
<text x="727.44" y="774.80" text-anchor="middle" font-family='"Liberation Sans", sans-serif' font-size="24.4"><tspan class="h">1</tspan>980</text>
<path d="M708.99 757.40L708.99 774.20L706.94 774.20L706.94 761.70C705.74 762.40 704.14 762.70 702.44 762.70L702.44 760.80C704.74 760.50 706.34 759.10 707.24 757.40Z" fill="#000"/>
<line x1="924.92" y1="738.9" x2="924.92" y2="748.6" stroke="#000" stroke-width="1.5" stroke-opacity="0.65"/>
<text x="924.92" y="774.80" text-anchor="middle" font-family='"Liberation Sans", sans-serif' font-size="24.4">2000</text>
<line x1="91.2" y1="726.60" x2="81.3" y2="726.60" stroke="#000" stroke-width="1.5" stroke-opacity="0.65"/>
<text transform="translate(67.8 726.60) rotate(-90)" text-anchor="middle" font-family='"Liberation Sans", sans-serif' font-size="24.4"><tspan dy="1.8">−</tspan><tspan dy="-1.8">4</tspan></text>
<line x1="91.2" y1="682.60" x2="81.3" y2="682.60" stroke="#000" stroke-width="1.5" stroke-opacity="0.65"/>
<line x1="91.2" y1="638.60" x2="81.3" y2="638.60" stroke="#000" stroke-width="1.5" stroke-opacity="0.65"/>
<text transform="translate(67.8 638.60) rotate(-90)" text-anchor="middle" font-family='"Liberation Sans", sans-serif' font-size="24.4"><tspan dy="1.8">−</tspan><tspan dy="-1.8">2</tspan></text>
<line x1="91.2" y1="594.60" x2="81.3" y2="594.60" stroke="#000" stroke-width="1.5" stroke-opacity="0.65"/>
<line x1="91.2" y1="550.60" x2="81.3" y2="550.60" stroke="#000" stroke-width="1.5" stroke-opacity="0.65"/>
<text transform="translate(67.8 550.60) rotate(-90)" text-anchor="middle" font-family='"Liberation Sans", sans-serif' font-size="24.4">0</text>
<line x1="91.2" y1="506.60" x2="81.3" y2="506.60" stroke="#000" stroke-width="1.5" stroke-opacity="0.65"/>
<g transform="translate(67.8 506.60) rotate(-90)"><path d="M1.90 -16.80L1.90 0.00L-0.15 0.00L-0.15 -12.50C-1.35 -11.80 -2.95 -11.50 -4.65 -11.50L-4.65 -13.40C-2.35 -13.70 -0.75 -15.10 0.15 -16.80Z" fill="#000"/></g>
<line x1="91.2" y1="462.60" x2="81.3" y2="462.60" stroke="#000" stroke-width="1.5" stroke-opacity="0.65"/>
<text transform="translate(67.8 462.60) rotate(-90)" text-anchor="middle" font-family='"Liberation Sans", sans-serif' font-size="24.4">2</text>
<line x1="91.2" y1="418.60" x2="81.3" y2="418.60" stroke="#000" stroke-width="1.5" stroke-opacity="0.65"/>
<text transform="translate(67.8 418.60) rotate(-90)" text-anchor="middle" font-family='"Liberation Sans", sans-serif' font-size="24.4">3</text>
<path d="M126.66 550.60V522.52M127.56 550.60V509.02M128.46 550.60V491.91M129.36 550.60V518.92M138.00 550.60V529.72M139.08 550.60V534.22M139.80 550.60V500.01M140.70 550.60V491.91M141.78 550.60V417.56M142.50 550.60V464.01M143.40 550.60V499.11M144.48 550.60V516.22M145.20 550.60V534.22M146.10 550.60V501.81M147.00 550.60V522.52M149.34 550.60V541.42M150.42 550.60V518.02M151.50 550.60V471.21M152.41 550.60V436.64M153.31 550.60V464.01M154.21 550.60V506.32M161.23 550.60V511.72M162.31 550.60V532.42M164.65 550.60V532.42M165.55 550.60V509.92M166.45 550.60V538.72M173.65 550.60V546.82M174.73 550.60V544.12M175.63 550.60V513.52M176.89 550.60V544.12M181.03 550.60V467.97M182.11 550.60V486.51M183.01 550.60V509.02M184.27 550.60V538.72M185.53 550.60V529.72M186.43 550.60V534.22M201.91 550.60V545.02M207.31 550.60V537.82M208.21 550.60V522.52M209.11 550.60V528.82M210.19 550.60V542.32M211.27 550.60V534.22M212.35 550.60V518.56M213.43 550.60V543.22M217.40 550.60V492.27M218.30 550.60V539.62M221.72 550.60V545.92M227.30 550.60V544.12M228.02 550.60V511.18M228.92 550.60V538.72M236.12 550.60V522.52M237.38 550.60V543.22M238.46 550.60V544.12M245.12 550.60V524.32M246.20 550.60V514.42M247.28 550.60V477.51M248.36 550.60V466.71M249.26 550.60V491.01M250.16 550.60V522.52M251.24 550.60V534.22M252.32 550.60V534.22M253.22 550.60V534.22M254.12 550.60V534.22M255.02 550.60V523.42M255.92 550.60V503.61M257.00 550.60V544.12M258.26 550.60V519.82M259.16 550.60V499.11M260.24 550.60V541.42M261.68 550.60V524.32M262.76 550.60V524.32M263.84 550.60V523.42M264.74 550.60V528.82M265.28 550.60V529.72M268.16 550.60V519.82M269.06 550.60V494.61M269.96 550.60V494.61M270.86 550.60V501.81M271.94 550.60V506.32M273.02 550.60V501.81M274.10 550.60V498.21M275.00 550.60V535.12M276.08 550.60V535.12M277.16 550.60V536.02M278.06 550.60V532.42M279.14 550.60V542.32M279.95 550.60V542.32M280.77 550.60V536.92M281.85 550.60V520.72M282.93 550.60V447.81M283.83 550.60V469.41M284.73 550.60V467.61M289.77 550.60V531.52M294.45 550.60V542.32M295.71 550.60V536.92M296.61 550.60V536.02M297.87 550.60V493.71M298.95 550.60V481.11M299.85 550.60V533.32M303.45 550.60V510.82M304.35 550.60V510.82M305.25 550.60V483.81M306.15 550.60V479.31M306.87 550.60V444.21M307.95 550.60V479.31M308.67 550.60V480.21M309.75 550.60V510.82M310.83 550.60V518.92M311.91 550.60V491.91M312.81 550.60V509.02M313.89 550.60V547.72M315.87 550.60V512.62M321.45 550.60V537.82M322.53 550.60V530.62M323.61 550.60V519.46M327.57 550.60V500.01M328.47 550.60V543.22M331.35 550.60V522.52M332.43 550.60V537.82M333.51 550.60V537.82M334.41 550.60V522.52M335.49 550.60V522.52M336.57 550.60V530.62M337.47 550.60V543.22M346.66 550.60V527.92M347.38 550.60V501.81M348.46 550.60V501.81M349.36 550.60V502.71M350.26 550.60V506.32M350.98 550.60V533.32M356.92 550.60V527.92M357.82 550.60V546.82M364.66 550.60V536.92M365.56 550.60V508.12M366.46 550.60V511.72M367.54 550.60V542.32M383.20 550.60V523.42M384.28 550.60V504.51M385.18 550.60V496.41M386.08 550.60V546.82M390.04 550.60V536.02M391.12 550.60V547.72M393.28 550.60V532.42M394.18 550.60V522.52M395.26 550.60V509.02M396.16 550.60V509.02M397.06 550.60V534.22M397.78 550.60V529.72M401.38 550.60V539.62M402.46 550.60V518.02M403.36 550.60V526.12M404.80 550.60V532.42M405.70 550.60V524.32M406.60 550.60V527.02M407.68 550.60V536.92M408.77 550.60V514.42M412.91 550.60V540.52M413.81 550.60V514.42M414.71 550.60V531.52M415.61 550.60V532.42M416.51 550.60V478.41M417.41 550.60V513.52M418.31 550.60V504.51M419.21 550.60V518.92M420.29 550.60V527.02M423.71 550.60V520.72M429.65 550.60V522.52M430.55 550.60V497.31M431.45 550.60V490.11M432.53 550.60V489.21M433.61 550.60V463.11M434.69 550.60V468.51M435.59 550.60V540.52M436.67 550.60V536.02M437.75 550.60V527.02M438.83 550.60V513.52M439.91 550.60V529.72M440.99 550.60V509.92M441.89 550.60V486.51M442.79 550.60V467.25M443.69 550.60V501.81M448.55 550.60V522.52M449.45 550.60V538.72M450.53 550.60V543.22M451.61 550.60V536.02M452.51 550.60V544.12M457.01 550.60V531.52M460.61 550.60V504.51M461.69 550.60V485.61M462.59 550.60V479.85M463.31 550.60V545.02M467.45 550.60V506.32M468.53 550.60V523.42M469.43 550.60V521.62M470.51 550.60V496.41M471.59 550.60V479.31M472.50 550.60V493.71M473.40 550.60V516.22M474.48 550.60V546.82M475.38 550.60V546.82M476.28 550.60V523.42M477.36 550.60V548.62M478.62 550.60V511.72M479.52 550.60V518.92M480.42 550.60V532.42M483.30 550.60V509.92M484.20 550.60V486.51M485.10 550.60V534.22M486.18 550.60V532.42M487.26 550.60V537.82M488.52 550.60V499.11M489.60 550.60V500.01M490.68 550.60V532.42M491.94 550.60V548.62M493.02 550.60V543.22M494.10 550.60V539.62M496.44 550.60V500.91M497.34 550.60V491.91M498.24 550.60V474.81M499.14 550.60V523.42M499.86 550.60V517.12M500.94 550.60V536.02M502.02 550.60V536.02M503.10 550.60V524.32M505.08 550.60V524.32M506.16 550.60V499.65M506.88 550.60V539.62M510.84 550.60V518.92M511.92 550.60V539.62M513.00 550.60V539.62M514.26 550.60V497.31M518.76 550.60V535.12M519.84 550.60V527.92M520.92 550.60V545.02M521.73 550.60V545.02M522.54 550.60V509.92M523.44 550.60V446.91M524.34 550.60V436.10M525.24 550.60V491.91M526.32 550.60V501.81M527.22 550.60V526.12M528.12 550.60V529.72M530.64 550.60V544.12M531.54 550.60V532.42M532.44 550.60V513.52M533.34 550.60V525.22M534.24 550.60V532.42M537.13 550.60V527.02M538.03 550.60V544.12M538.84 550.60V544.12M539.65 550.60V508.12M540.55 550.60V467.61M541.45 550.60V445.47M542.53 550.60V455.91M543.43 550.60V503.61M547.21 550.60V542.32M548.11 550.60V532.42M549.01 550.60V541.42M552.61 550.60V517.12M553.69 550.60V514.06M554.59 550.60V516.22M555.49 550.60V518.02M556.57 550.60V518.02M557.65 550.60V506.68M558.55 550.60V516.22M563.41 550.60V537.82M564.49 550.60V472.65M565.39 550.60V490.11M566.29 550.60V537.82M567.73 550.60V527.02M568.63 550.60V518.02M569.53 550.60V492.81M570.43 550.60V518.02M571.33 550.60V507.22M572.41 550.60V543.22M573.49 550.60V543.22M574.57 550.60V526.12M575.47 550.60V510.82M576.37 550.60V499.11M581.95 550.60V538.72M582.85 550.60V526.12M583.75 550.60V531.52M584.83 550.60V537.82M586.09 550.60V537.82M587.17 550.60V532.42M588.07 550.60V514.42M588.97 550.60V507.58M589.87 550.60V529.72M590.77 550.60V533.32M592.21 550.60V542.32M593.47 550.60V542.32M594.37 550.60V534.22M595.45 550.60V534.22M596.53 550.60V534.22M597.61 550.60V511.72M598.69 550.60V473.91M599.59 550.60V473.01M600.50 550.60V474.81M601.40 550.60V532.42M602.30 550.60V530.62M605.72 550.60V545.02M606.62 550.60V426.74M607.52 550.60V459.51M608.60 550.60V459.51M609.50 550.60V463.11M610.58 550.60V464.91M611.48 550.60V489.21M612.38 550.60V519.82M613.28 550.60V532.42M614.36 550.60V512.62M615.44 550.60V510.82M616.34 550.60V509.02M617.42 550.60V543.22M625.52 550.60V501.45M626.42 550.60V544.12M632.72 550.60V523.42M635.24 550.60V543.22M640.10 550.60V520.72M641.00 550.60V516.22M641.90 550.60V510.10M642.80 550.60V548.62M644.24 550.60V545.02M649.28 550.60V536.92M650.18 550.60V495.51M651.08 550.60V495.51M652.16 550.60V534.22M653.60 550.60V534.22M654.68 550.60V499.11M655.22 550.60V487.95M666.57 550.60V539.62M667.65 550.60V533.32M668.55 550.60V519.82M669.63 550.60V506.32M670.53 550.60V511.72M671.43 550.60V515.32M672.33 550.60V518.92M673.23 550.60V514.42M674.13 550.60V529.72M677.37 550.60V539.62M678.27 550.60V509.02M679.17 550.60V534.22M683.49 550.60V483.81M684.57 550.60V516.22M685.47 550.60V459.51M686.37 550.60V473.01M687.27 550.60V446.01M688.17 550.60V498.21M689.07 550.60V509.02M690.15 550.60V486.51M691.05 550.60V482.01M691.95 550.60V498.21M692.85 550.60V519.82M693.75 550.60V491.91M694.65 550.60V511.72M695.55 550.60V540.52M700.23 550.60V522.52M701.31 550.60V540.52M705.45 550.60V490.11M706.35 550.60V496.41M707.25 550.60V509.02M713.01 550.60V525.22M713.91 550.60V497.85M719.85 550.60V525.22M723.81 550.60V524.32M724.53 550.60V532.42M725.43 550.60V539.62M726.51 550.60V527.92M727.59 550.60V494.61M728.50 550.60V503.61M729.58 550.60V503.61M730.66 550.60V527.02M731.47 550.60V527.02M732.28 550.60V523.42M733.18 550.60V524.32M734.26 550.60V530.62M735.34 550.60V500.91M736.24 550.60V480.21M737.14 550.60V490.65M738.22 550.60V518.02M739.30 550.60V479.31M740.20 550.60V479.31M741.10 550.60V445.65M742.00 550.60V486.51M742.90 550.60V501.81M743.62 550.60V511.72M744.70 550.60V514.42M745.78 550.60V514.42M746.68 550.60V501.45M747.58 550.60V503.61M748.66 550.60V514.42M749.38 550.60V536.02M757.12 550.60V540.52M758.02 550.60V511.72M759.10 550.60V536.92M759.91 550.60V536.92M760.72 550.60V536.92M761.62 550.60V511.72M762.52 550.60V499.47M763.60 550.60V503.61M764.50 550.60V523.42M765.40 550.60V545.02M766.48 550.60V545.92M767.20 550.60V546.82M770.08 550.60V506.32M770.98 550.60V457.71M772.06 550.60V456.81M772.96 550.60V535.12M774.04 550.60V545.92M775.12 550.60V516.58M776.02 550.60V539.62M783.58 550.60V540.52M788.26 550.60V512.98M789.16 550.60V539.62M791.68 550.60V543.22M794.75 550.60V538.72M799.61 550.60V536.92M800.69 550.60V539.62M808.61 550.60V518.92M809.69 550.60V473.91M810.77 550.60V507.22M814.19 550.60V534.22M815.09 550.60V543.22M819.59 550.60V520.72M820.49 550.60V542.32M826.79 550.60V523.42M827.69 550.60V509.38M828.59 550.60V521.62M831.65 550.60V538.72M832.91 550.60V537.82M833.81 550.60V464.01M834.71 550.60V455.91M835.61 550.60V483.81M836.51 550.60V542.32M837.41 550.60V542.32M838.31 550.60V521.62M839.21 550.60V538.72M840.11 550.60V512.62M841.01 550.60V512.62M841.91 550.60V458.97M842.81 550.60V497.31M843.71 550.60V539.62M845.69 550.60V507.58M846.59 550.60V529.72M847.49 550.60V543.22M858.84 550.60V496.41M859.92 550.60V493.71M860.64 550.60V471.75M861.54 550.60V501.81M867.66 550.60V522.52M868.74 550.60V527.92M869.82 550.60V539.62M870.90 550.60V539.62M871.98 550.60V539.62M873.42 550.60V528.82M874.50 550.60V514.06M875.40 550.60V532.42M876.30 550.60V533.32M877.38 550.60V533.32M878.28 550.60V534.22M880.98 550.60V511.72M881.88 550.60V539.62M882.78 550.60V527.02M883.86 550.60V481.11M884.94 550.60V491.01M885.66 550.60V518.02M889.62 550.60V500.01M890.52 550.60V546.82M893.76 550.60V527.02M894.66 550.60V521.62M895.56 550.60V508.12M896.46 550.60V485.61M897.36 550.60V484.71M898.26 550.60V465.81M899.16 550.60V437.00M900.06 550.60V429.44M900.96 550.60V446.01M901.86 550.60V473.01M902.76 550.60V482.01M903.66 550.60V511.72M904.56 550.60V543.22M913.20 550.60V491.91M914.10 550.60V481.11M915.00 550.60V458.61M915.90 550.60V475.71M916.80 550.60V476.61M917.70 550.60V491.01M922.57 550.60V533.32M923.47 550.60V534.22M924.37 550.60V524.86M929.05 550.60V541.42M929.95 550.60V494.97M930.85 550.60V536.92M940.39 550.60V509.38M941.29 550.60V527.92M942.19 550.60V530.62M943.09 550.60V540.52M944.35 550.60V539.62M945.25 550.60V528.82M946.15 550.60V517.12M947.05 550.60V515.32M947.95 550.60V527.02M948.85 550.60V539.62M957.85 550.60V509.02M960.91 550.60V480.21M961.81 550.60V451.05M962.71 550.60V464.01M963.61 550.60V489.21M969.91 550.60V507.22M970.81 550.60V490.11M971.71 550.60V518.92M977.47 550.60V525.22M978.55 550.60V516.22M979.45 550.60V523.42M129.83 550.60V584.75M130.91 550.60V664.31M131.80 550.60V607.99M132.87 550.60V568.66M133.94 550.60V559.73M135.02 550.60V557.94M136.09 550.60V599.06M137.16 550.60V612.46M147.89 550.60V599.06M148.60 550.60V556.15M154.68 550.60V589.22M155.75 550.60V607.99M156.83 550.60V597.27M157.90 550.60V568.66M158.97 550.60V591.01M160.04 550.60V588.33M161.12 550.60V579.39M162.19 550.60V586.54M163.26 550.60V586.54M166.84 550.60V566.88M167.91 550.60V565.09M168.98 550.60V581.18M169.70 550.60V592.80M170.77 550.60V565.09M171.84 550.60V574.03M172.92 550.60V582.07M175.78 550.60V557.94M176.67 550.60V557.94M177.56 550.60V620.51M178.28 550.60V660.73M179.35 550.60V647.32M180.42 550.60V577.60M186.86 550.60V570.45M187.93 550.60V611.57M189.01 550.60V629.45M190.08 550.60V602.63M191.15 550.60V599.06M192.04 550.60V642.85M192.94 550.60V630.34M194.01 550.60V593.69M195.08 550.60V570.45M196.16 550.60V584.75M197.23 550.60V622.30M198.30 550.60V588.33M199.37 550.60V566.88M200.45 550.60V582.07M201.52 550.60V577.60M202.59 550.60V556.15M204.02 550.60V579.39M205.09 550.60V568.66M209.39 550.60V576.71M210.46 550.60V557.94M213.32 550.60V559.73M214.39 550.60V616.93M215.46 550.60V572.24M216.54 550.60V554.36M219.40 550.60V597.27M220.47 550.60V568.66M222.61 550.60V588.33M223.69 550.60V622.30M224.76 550.60V626.77M225.83 550.60V597.27M226.91 550.60V570.45M229.77 550.60V597.27M230.84 550.60V631.23M231.91 550.60V675.03M232.98 550.60V626.77M234.06 550.60V570.45M235.13 550.60V565.09M236.20 550.60V577.60M237.09 550.60V559.73M237.99 550.60V559.73M239.06 550.60V574.03M240.13 550.60V582.97M241.21 550.60V570.45M242.28 550.60V586.54M242.99 550.60V632.13M244.07 550.60V584.75M253.36 550.60V555.26M257.83 550.60V568.66M265.88 550.60V559.73M266.95 550.60V582.97M275.71 550.60V583.86M276.60 550.60V572.24M277.68 550.60V572.24M278.75 550.60V572.24M285.54 550.60V592.80M286.61 550.60V663.41M287.69 550.60V611.57M288.76 550.60V563.30M289.65 550.60V563.30M290.55 550.60V568.66M291.62 550.60V602.63M292.34 550.60V631.23M293.41 550.60V568.66M300.20 550.60V598.16M301.27 550.60V669.67M302.35 550.60V577.60M303.42 550.60V556.15M304.49 550.60V557.04M309.50 550.60V553.47M314.15 550.60V562.41M317.01 550.60V591.91M318.08 550.60V651.79M319.15 550.60V595.48M320.22 550.60V568.66M321.30 550.60V566.88M324.87 550.60V590.12M325.94 550.60V597.27M327.02 550.60V559.73M327.91 550.60V559.73M328.80 550.60V568.66M329.88 550.60V559.73M330.95 550.60V556.15M333.81 550.60V565.98M338.28 550.60V562.41M340.96 550.60V565.09M342.03 550.60V581.18M343.11 550.60V602.63M344.18 550.60V627.66M345.25 550.60V575.82M352.04 550.60V600.84M353.12 550.60V610.68M354.01 550.60V658.05M354.91 550.60V607.99M355.98 550.60V559.73M358.12 550.60V565.09M358.84 550.60V626.77M359.91 550.60V559.73M360.98 550.60V561.51M362.06 550.60V581.18M363.13 550.60V583.86M364.20 550.60V565.09M367.78 550.60V556.15M368.85 550.60V582.97M369.92 550.60V607.99M370.99 550.60V622.30M372.07 550.60V624.08M373.14 550.60V602.63M374.21 550.60V604.42M375.28 550.60V579.39M376.36 550.60V597.27M377.43 550.60V624.08M378.50 550.60V563.30M379.58 550.60V554.36M381.01 550.60V602.63M382.08 550.60V581.18M383.15 550.60V557.94M386.73 550.60V581.18M387.80 550.60V616.93M388.87 550.60V556.15M391.02 550.60V556.15M392.45 550.60V562.41M398.17 550.60V609.78M399.24 550.60V593.69M400.31 550.60V581.18M401.03 550.60V554.36M404.60 550.60V585.65M405.68 550.60V554.36M407.82 550.60V582.07M408.89 550.60V563.30M409.97 550.60V554.36M411.04 550.60V611.57M422.84 550.60V572.24M424.27 550.60V595.48M425.34 550.60V566.88M426.41 550.60V559.73M427.84 550.60V557.94M436.07 550.60V571.35M445.01 550.60V622.30M446.08 550.60V599.06M447.15 550.60V615.15M448.22 550.60V559.73M453.23 550.60V570.45M454.30 550.60V596.37M455.37 550.60V554.36M457.52 550.60V597.27M458.59 550.60V622.30M459.31 550.60V653.58M460.38 550.60V607.99M461.45 550.60V554.36M463.60 550.60V595.48M464.67 550.60V602.63M465.74 550.60V572.24M466.46 550.60V561.51M473.61 550.60V601.74M474.68 550.60V563.30M477.54 550.60V566.88M481.47 550.60V594.59M482.55 550.60V579.39M486.84 550.60V589.22M491.13 550.60V578.50M494.35 550.60V598.16M500.42 550.60V571.35M501.50 550.60V565.09M502.57 550.60V554.36M507.58 550.60V576.71M508.65 550.60V618.72M509.72 550.60V570.45M514.01 550.60V557.94M515.08 550.60V566.88M516.16 550.60V563.30M517.23 550.60V556.15M520.80 550.60V552.58M525.81 550.60V565.98M529.03 550.60V560.62M534.03 550.60V577.60M535.11 550.60V621.40M536.18 550.60V557.94M544.40 550.60V556.15M545.47 550.60V620.51M546.55 550.60V581.18M549.77 550.60V559.73M550.84 550.60V579.39M551.55 550.60V599.06M552.63 550.60V572.24M560.49 550.60V586.54M561.21 550.60V598.16M562.28 550.60V586.54M563.35 550.60V566.88M566.57 550.60V559.73M573.36 550.60V565.98M577.30 550.60V563.30M578.37 550.60V575.82M579.44 550.60V591.01M580.51 550.60V566.88M581.59 550.60V575.82M582.66 550.60V583.86M583.73 550.60V570.45M584.80 550.60V582.07M585.88 550.60V577.60M586.95 550.60V552.58M591.60 550.60V570.45M593.03 550.60V581.18M603.75 550.60V556.15M604.83 550.60V566.88M619.31 550.60V576.71M620.38 550.60V598.16M621.45 550.60V572.24M622.53 550.60V566.88M623.60 550.60V590.12M624.67 550.60V565.09M626.99 550.60V577.60M628.07 550.60V598.16M629.14 550.60V579.39M630.21 550.60V574.03M631.28 550.60V566.88M632.72 550.60V557.94M633.79 550.60V582.07M634.86 550.60V574.03M635.93 550.60V607.99M637.01 550.60V591.01M638.08 550.60V559.73M639.15 550.60V556.15M642.73 550.60V577.60M643.80 550.60V568.66M644.87 550.60V578.50M645.94 550.60V566.88M647.02 550.60V568.66M648.09 550.60V594.59M649.16 550.60V556.15M652.38 550.60V594.59M653.45 550.60V554.36M656.31 550.60V612.46M657.39 550.60V586.54M658.46 550.60V565.09M659.53 550.60V600.84M660.60 550.60V646.43M661.68 550.60V595.48M662.75 550.60V563.30M663.82 550.60V606.21M664.89 550.60V617.83M665.97 550.60V568.66M674.55 550.60V570.45M675.26 550.60V630.34M676.34 550.60V563.30M679.55 550.60V563.30M680.27 550.60V603.53M681.34 550.60V584.75M682.41 550.60V591.91M683.49 550.60V600.84M696.36 550.60V602.63M697.43 550.60V617.83M698.15 550.60V633.92M699.22 550.60V584.75M700.29 550.60V557.94M701.18 550.60V557.94M702.08 550.60V584.75M703.15 550.60V611.57M704.22 550.60V581.18M705.30 550.60V572.24M708.51 550.60V582.97M709.59 550.60V600.84M710.30 550.60V622.30M711.37 550.60V590.12M712.45 550.60V559.73M715.31 550.60V591.91M716.38 550.60V611.57M717.81 550.60V633.92M718.88 550.60V577.60M719.96 550.60V574.03M721.03 550.60V592.80M722.10 550.60V566.88M723.17 550.60V556.15M725.68 550.60V581.18M731.40 550.60V557.94M734.79 550.60V599.06M738.91 550.60V559.73M749.27 550.60V563.30M750.35 550.60V622.30M751.42 550.60V591.01M752.49 550.60V591.01M753.56 550.60V588.33M754.64 550.60V580.28M755.71 550.60V556.15M760.36 550.60V579.39M761.07 550.60V631.23M761.79 550.60V556.15M764.29 550.60V584.75M765.36 550.60V554.36M767.87 550.60V599.06M768.94 550.60V566.88M773.23 550.60V597.27M777.16 550.60V594.59M778.23 550.60V679.50M779.31 550.60V609.78M780.38 550.60V584.75M781.45 550.60V627.66M782.53 550.60V611.57M783.60 550.60V590.12M785.03 550.60V616.93M786.10 550.60V641.07M787.17 550.60V616.93M788.25 550.60V566.88M789.68 550.60V570.45M790.75 550.60V556.15M791.64 550.60V556.15M792.54 550.60V615.15M793.61 550.60V606.21M794.68 550.60V574.03M795.75 550.60V566.88M796.83 550.60V557.94M797.90 550.60V602.63M798.97 550.60V579.39M800.04 550.60V559.73M802.19 550.60V611.57M803.26 550.60V607.99M803.98 550.60V659.84M805.05 550.60V616.93M806.12 550.60V590.12M807.20 550.60V577.60M808.27 550.60V559.73M812.20 550.60V578.50M813.27 550.60V556.15M816.85 550.60V582.07M817.92 550.60V572.24M818.99 550.60V559.73M822.57 550.60V597.27M823.64 550.60V590.12M824.72 550.60V584.75M825.79 550.60V563.30M829.01 550.60V590.12M830.08 550.60V556.15M832.94 550.60V600.84M834.01 550.60V557.94M837.23 550.60V572.24M838.66 550.60V559.73M840.80 550.60V572.24M841.88 550.60V563.30M842.95 550.60V577.60M844.02 550.60V572.24M845.09 550.60V556.15M848.67 550.60V611.57M849.74 550.60V615.15M850.82 550.60V606.21M851.89 550.60V570.45M852.96 550.60V581.18M854.03 550.60V574.03M855.46 550.60V616.93M856.54 550.60V658.94M857.61 550.60V584.75M858.68 550.60V556.15M862.61 550.60V612.46M863.69 550.60V633.02M864.76 550.60V631.23M865.83 550.60V591.91M866.91 550.60V563.30M870.12 550.60V559.73M871.20 550.60V565.09M872.27 550.60V559.73M878.70 550.60V582.97M879.78 550.60V563.30M886.93 550.60V576.71M887.82 550.60V561.51M888.72 550.60V561.51M889.79 550.60V590.12M890.86 550.60V612.46M891.93 550.60V584.75M905.16 550.60V556.15M906.23 550.60V557.94M907.31 550.60V616.93M908.38 550.60V625.87M909.45 550.60V639.28M910.53 550.60V575.82M911.60 550.60V577.60M912.67 550.60V596.37M918.03 550.60V581.18M919.11 550.60V602.63M920.18 550.60V568.66M921.25 550.60V611.57M924.83 550.60V559.73M925.90 550.60V606.21M926.97 550.60V633.02M928.04 550.60V577.60M931.98 550.60V591.91M933.05 550.60V616.93M934.12 550.60V624.08M935.20 550.60V648.22M936.27 550.60V625.87M937.34 550.60V566.88M938.41 550.60V559.73M939.49 550.60V572.24M940.20 550.60V557.94M942.70 550.60V554.36M949.50 550.60V572.24M950.57 550.60V591.91M951.64 550.60V641.96M952.72 550.60V602.63M953.79 550.60V563.30M955.22 550.60V590.12M956.29 550.60V568.66M958.79 550.60V591.91M959.87 550.60V623.19M960.94 550.60V584.75M964.51 550.60V584.75M965.59 550.60V625.87M966.66 550.60V629.45M967.73 550.60V616.93M968.80 550.60V570.45M972.38 550.60V563.30M973.45 550.60V574.03M974.53 550.60V591.91M975.60 550.60V590.12M976.67 550.60V598.16M977.74 550.60V556.15M980.25 550.60V556.15M980.96 550.60V606.21" stroke="#161616" stroke-width="1.02" fill="none"/>
<line x1="91.2" y1="551.1" x2="1014.9" y2="549.8" stroke="#ff0000" stroke-width="1.35"/>
<line x1="893" y1="406.25" x2="893" y2="738.9" stroke="#0000ff" stroke-width="1.1"/>
<text transform="translate(29 572.58) rotate(-90)" text-anchor="middle" font-family='"Liberation Sans", sans-serif' font-size="24.4">SPI</text>
<rect x="91.25" y="700.3" width="285.35" height="38.70" fill="#fff" stroke="#000" stroke-width="1.3" stroke-opacity="0.88"/>
<text x="120.3" y="725.9" font-family='"Liberation Sans", sans-serif' font-size="16.2">trend = 8.8e<tspan dy="1.2">−</tspan><tspan dy="-1.2">0</tspan>7 intercept = 0.0047</text>
</svg></body></html>
